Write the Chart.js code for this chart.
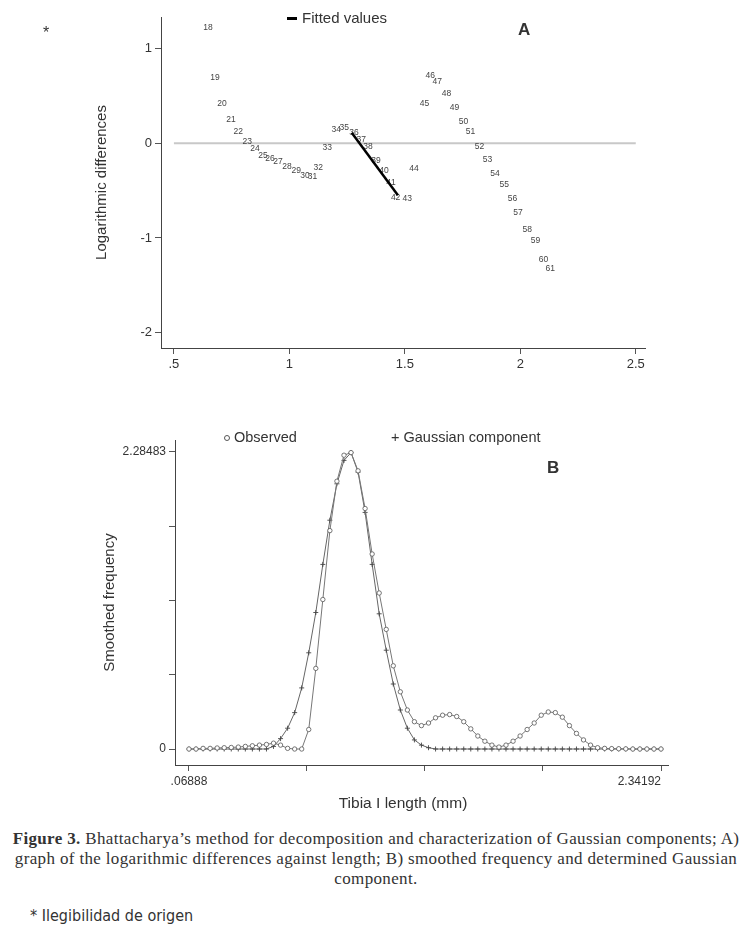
<!DOCTYPE html>
<html>
<head>
<meta charset="utf-8">
<script src="https://cdn.jsdelivr.net/npm/chart.js@4.4.1/dist/chart.umd.min.js"></script>
<style>
body { margin: 0; background: #fff; }
#page { position: relative; width: 752px; height: 936px; overflow: hidden; font-family: "Liberation Sans", Arial, sans-serif; color: #333; }
canvas { position: absolute; left: 0; }
.txt { position: absolute; white-space: nowrap; }
</style>
</head>
<body>
<div id="page">
  <canvas id="chartA" width="752" height="392" style="top:0"></canvas>
  <canvas id="chartB" width="752" height="400" style="top:420px"></canvas>

  <div class="txt" style="left:43px;top:24px;font-size:16px;">*</div>
  <!-- legend A -->
  <div class="txt" style="left:287px;top:17px;width:10px;height:3px;background:#000;"></div>
  <div class="txt" style="left:302px;top:9px;font-size:15px;">Fitted values</div>
  <div class="txt" style="left:518px;top:20px;font-size:17px;font-weight:bold;">A</div>
  <!-- legend B -->
  <div class="txt" style="left:224px;top:435px;width:4px;height:4px;border:1px solid #555;border-radius:50%;"></div>
  <div class="txt" style="left:234px;top:429px;font-size:14.5px;">Observed</div>
  <div class="txt" style="left:391px;top:429px;font-size:14.5px;">+ Gaussian component</div>
  <div class="txt" style="left:547px;top:458px;font-size:17px;font-weight:bold;">B</div>
  <div class="txt" style="left:303px;top:794px;font-size:15.5px;width:200px;text-align:center;">Tibia I length (mm)</div>

  <div class="txt" style="left:0;top:829px;width:752px;text-align:center;font-family:'Liberation Serif','Times New Roman',serif;font-size:17px;letter-spacing:0.35px;line-height:20px;">
    <b>Figure 3.</b> Bhattacharya’s method for decomposition and characterization of Gaussian components; A)<br>
    graph of the logarithmic differences against length; B) smoothed frequency and determined Gaussian<br>
    component.
  </div>
  <div class="txt" style="left:30px;top:906px;font-size:16px;font-family:'DejaVu Sans Condensed','DejaVu Sans',sans-serif;">* Ilegibilidad de origen</div>
</div>

<script>
// ---- panel A: logarithmic differences
var pointIds = [18, 19, 20, 21, 22, 23, 24, 25, 26, 27, 28, 29, 30, 31, 32, 33, 34, 35, 36, 37, 38, 39,
    40, 41, 42, 43, 44, 45, 46, 47, 48, 49, 50, 51, 52, 53, 54, 55, 56, 57, 58, 59, 60, 61];
var logX = [0.647, 0.678, 0.708, 0.747, 0.778, 0.817, 0.851, 0.886, 0.916, 0.951, 0.99, 1.03, 1.068, 1.10,
    1.125, 1.164, 1.203, 1.238, 1.28, 1.311, 1.34, 1.375, 1.41, 1.44, 1.46, 1.51, 1.54, 1.585, 1.61, 1.64,
    1.68, 1.715, 1.754, 1.784, 1.823, 1.858, 1.89, 1.93, 1.966, 1.99, 2.03, 2.066, 2.10, 2.13];
var logY = [1.22, 0.69, 0.42, 0.25, 0.12, 0.02, -0.06, -0.13, -0.16, -0.20, -0.25, -0.29, -0.34, -0.35,
    -0.26, -0.05, 0.14, 0.16, 0.11, 0.04, -0.04, -0.18, -0.29, -0.42, -0.57, -0.59, -0.27, 0.42, 0.71, 0.65,
    0.52, 0.37, 0.23, 0.12, -0.04, -0.17, -0.32, -0.44, -0.59, -0.73, -0.91, -1.03, -1.23, -1.32];
var fitX = [1.27, 1.47];
var fitY = [0.11, -0.55];
var zeroX = [0.5, 2.5];
var zeroY = [0, 0];
var aTicksX = [0.5, 1, 1.5, 2, 2.5];
var aLabelsX = ['.5', '1', '1.5', '2', '2.5'];
var aTicksY = [-2, -1, 0, 1];
var aLabelsY = ['-2', '-1', '0', '1'];

// ---- panel B: smoothed frequency
var freqX = [0.0689, 0.1028, 0.1368, 0.1707, 0.2046, 0.2385, 0.2725, 0.3064, 0.3403, 0.3742, 0.4082, 0.4421,
    0.4760, 0.5099, 0.5439, 0.5778, 0.6117, 0.6456, 0.6796, 0.7135, 0.7474, 0.7813, 0.8153, 0.8492, 0.8831,
    0.9170, 0.9510, 0.9849, 1.0188, 1.0527, 1.0867, 1.1206, 1.1545, 1.1884, 1.2224, 1.2563, 1.2902, 1.3241,
    1.3581, 1.3920, 1.4259, 1.4598, 1.4938, 1.5277, 1.5616, 1.5955, 1.6295, 1.6634, 1.6973, 1.7312, 1.7652,
    1.7991, 1.8330, 1.8669, 1.9009, 1.9348, 1.9687, 2.0026, 2.0366, 2.0705, 2.1044, 2.1383, 2.1723, 2.2062,
    2.2401, 2.2740, 2.3080, 2.3419];
var observed = [0, 0, 0.005, 0.005, 0.008, 0.01, 0.012, 0.015, 0.02, 0.025, 0.03, 0.035, 0.045, 0.03, 0.005,
    0, 0, 0.15, 0.62, 1.15, 1.68, 2.06, 2.26, 2.28,
    2.14, 1.85, 1.50, 1.20, 0.92, 0.64, 0.44, 0.30, 0.21, 0.18, 0.20, 0.24, 0.26, 0.265, 0.25, 0.21, 0.155,
    0.10, 0.06, 0.03, 0.015, 0.03, 0.06, 0.10, 0.15, 0.20, 0.26, 0.285, 0.28, 0.245, 0.18, 0.12, 0.07, 0.03,
    0.01, 0.005, 0.003, 0.002, 0.001, 0, 0, 0, 0, 0];
var gaussian = [0, 0, 0, 0, 0, 0, 0, 0, 0, 0, 0, 0,
    0.02, 0.08, 0.16, 0.28, 0.47, 0.74, 1.05, 1.42, 1.76, 2.04, 2.22, 2.28,
    2.13, 1.82, 1.42, 1.04, 0.76, 0.50, 0.30, 0.16, 0.07, 0.03, 0.01, 0,
    0, 0, 0, 0, 0, 0, 0, 0, 0, 0, 0, 0, 0, 0, 0, 0, 0, 0, 0, 0, 0, 0, 0, 0, 0, 0, 0, 0, 0, 0, 0, 0];
var bTicksX = [0.06888, 0.63714, 1.2054, 1.77366, 2.34192];
var bLabelsX = ['.06888', '', '', '', '2.34192'];
var bTicksY = [0, 0.57121, 1.14242, 1.71362, 2.28483];
var bLabelsY = ['0', '', '', '', '2.28483'];

function pts(xs, ys) {
    return xs.map(function (x, i) { return {x: x, y: ys[i]}; });
}

function axis(min, max, tickVals, tickLabels, size, isY, fontSize) {
    return {
        type: 'linear',
        min: min,
        max: max,
        afterBuildTicks: function (scale) {
            scale.ticks = tickVals.map(function (v) { return {value: v}; });
        },
        afterFit: function (scale) {
            if (isY) { scale.width = size; } else { scale.height = size; }
        },
        ticks: {
            autoSkip: false,
            maxRotation: 0,
            padding: 3,
            color: '#333',
            font: {size: fontSize},
            callback: function (v, i) { return tickLabels[i]; }
        },
        grid: {display: true, drawOnChartArea: false, drawTicks: true, tickLength: 6, color: '#555'},
        border: {display: true, color: '#444', width: 1}
    };
}

var pointLabels = {
    id: 'pointLabels',
    afterDatasetDraw: function (chart, args) {
        var ds = chart.data.datasets[args.index];
        if (!ds.markerText) return;
        var ctx = chart.ctx;
        ctx.save();
        ctx.font = '8.5px "Liberation Sans Narrow", "Liberation Sans", Arial';
        ctx.fillStyle = '#444';
        ctx.textAlign = 'center';
        ctx.textBaseline = 'middle';
        args.meta.data.forEach(function (p, i) {
            ctx.fillText(String(ds.markerText[i]), p.x, p.y);
        });
        ctx.restore();
    }
};

Chart.defaults.font.family = '"Liberation Sans", Arial, sans-serif';
Chart.defaults.color = '#333';

var scaleAX = axis(0.444, 2.54, aTicksX, aLabelsX, 44, false, 13);
var scaleAY = axis(-2.16, 1.33, aTicksY, aLabelsY, 68, true, 13);
scaleAY.title = {display: true, text: 'Logarithmic differences', font: {size: 15}, color: '#333', padding: {top: 0, bottom: 0}};

new Chart(document.getElementById('chartA'), {
    type: 'scatter',
    data: {
        datasets: [{
            label: 'Fitted values',
            data: pts(fitX, fitY),
            showLine: true,
            borderColor: '#000',
            borderWidth: 2.5,
            pointRadius: 0
        }, {
            label: 'Points',
            data: pts(logX, logY),
            markerText: pointIds,
            pointRadius: 0
        }, {
            label: 'Zero',
            data: pts(zeroX, zeroY),
            showLine: true,
            borderColor: '#c8c8c8',
            borderWidth: 2,
            pointRadius: 0
        }]
    },
    options: {
        responsive: false,
        animation: false,
        devicePixelRatio: 1,
        layout: {padding: {left: 93, right: 107, top: 17, bottom: 0}},
        plugins: {legend: {display: false}, tooltip: {enabled: false}},
        scales: {x: scaleAX, y: scaleAY}
    },
    plugins: [pointLabels]
});

var scaleBX = axis(0.0016, 2.3756, bTicksX, bLabelsX, 55, false, 12);
// last label sits left of its tick, as in the original
scaleBX.ticks.callback = function (v, i) {
    return i === bLabelsX.length - 1 ? bLabelsX[i] + '\u00a0\u00a0\u00a0\u00a0\u00a0\u00a0\u00a0\u00a0\u00a0\u00a0\u00a0\u00a0\u00a0' : bLabelsX[i];
};
var scaleBY = axis(-0.123, 2.377, bTicksY, bLabelsY, 74, true, 12);
scaleBY.title = {display: true, text: 'Smoothed frequency', font: {size: 15}, color: '#333', padding: {top: 0, bottom: 0}};

new Chart(document.getElementById('chartB'), {
    type: 'scatter',
    data: {
        datasets: [{
            label: 'Observed',
            data: pts(freqX, observed),
            showLine: true,
            borderColor: '#777',
            borderWidth: 1,
            pointStyle: 'circle',
            pointRadius: 2.2,
            pointBorderWidth: 0.8,
            pointBorderColor: '#555',
            pointBackgroundColor: '#fff'
        }, {
            label: 'Gaussian component',
            data: pts(freqX, gaussian),
            showLine: true,
            borderColor: '#666',
            borderWidth: 1,
            pointStyle: 'cross',
            pointRadius: 2.5,
            pointBorderWidth: 0.9,
            pointBorderColor: '#444'
        }]
    },
    options: {
        responsive: false,
        animation: false,
        devicePixelRatio: 1,
        layout: {padding: {left: 101, right: 84, top: 20, bottom: 0}},
        plugins: {legend: {display: false}, tooltip: {enabled: false}},
        scales: {x: scaleBX, y: scaleBY}
    }
});
</script>
</body>
</html>
